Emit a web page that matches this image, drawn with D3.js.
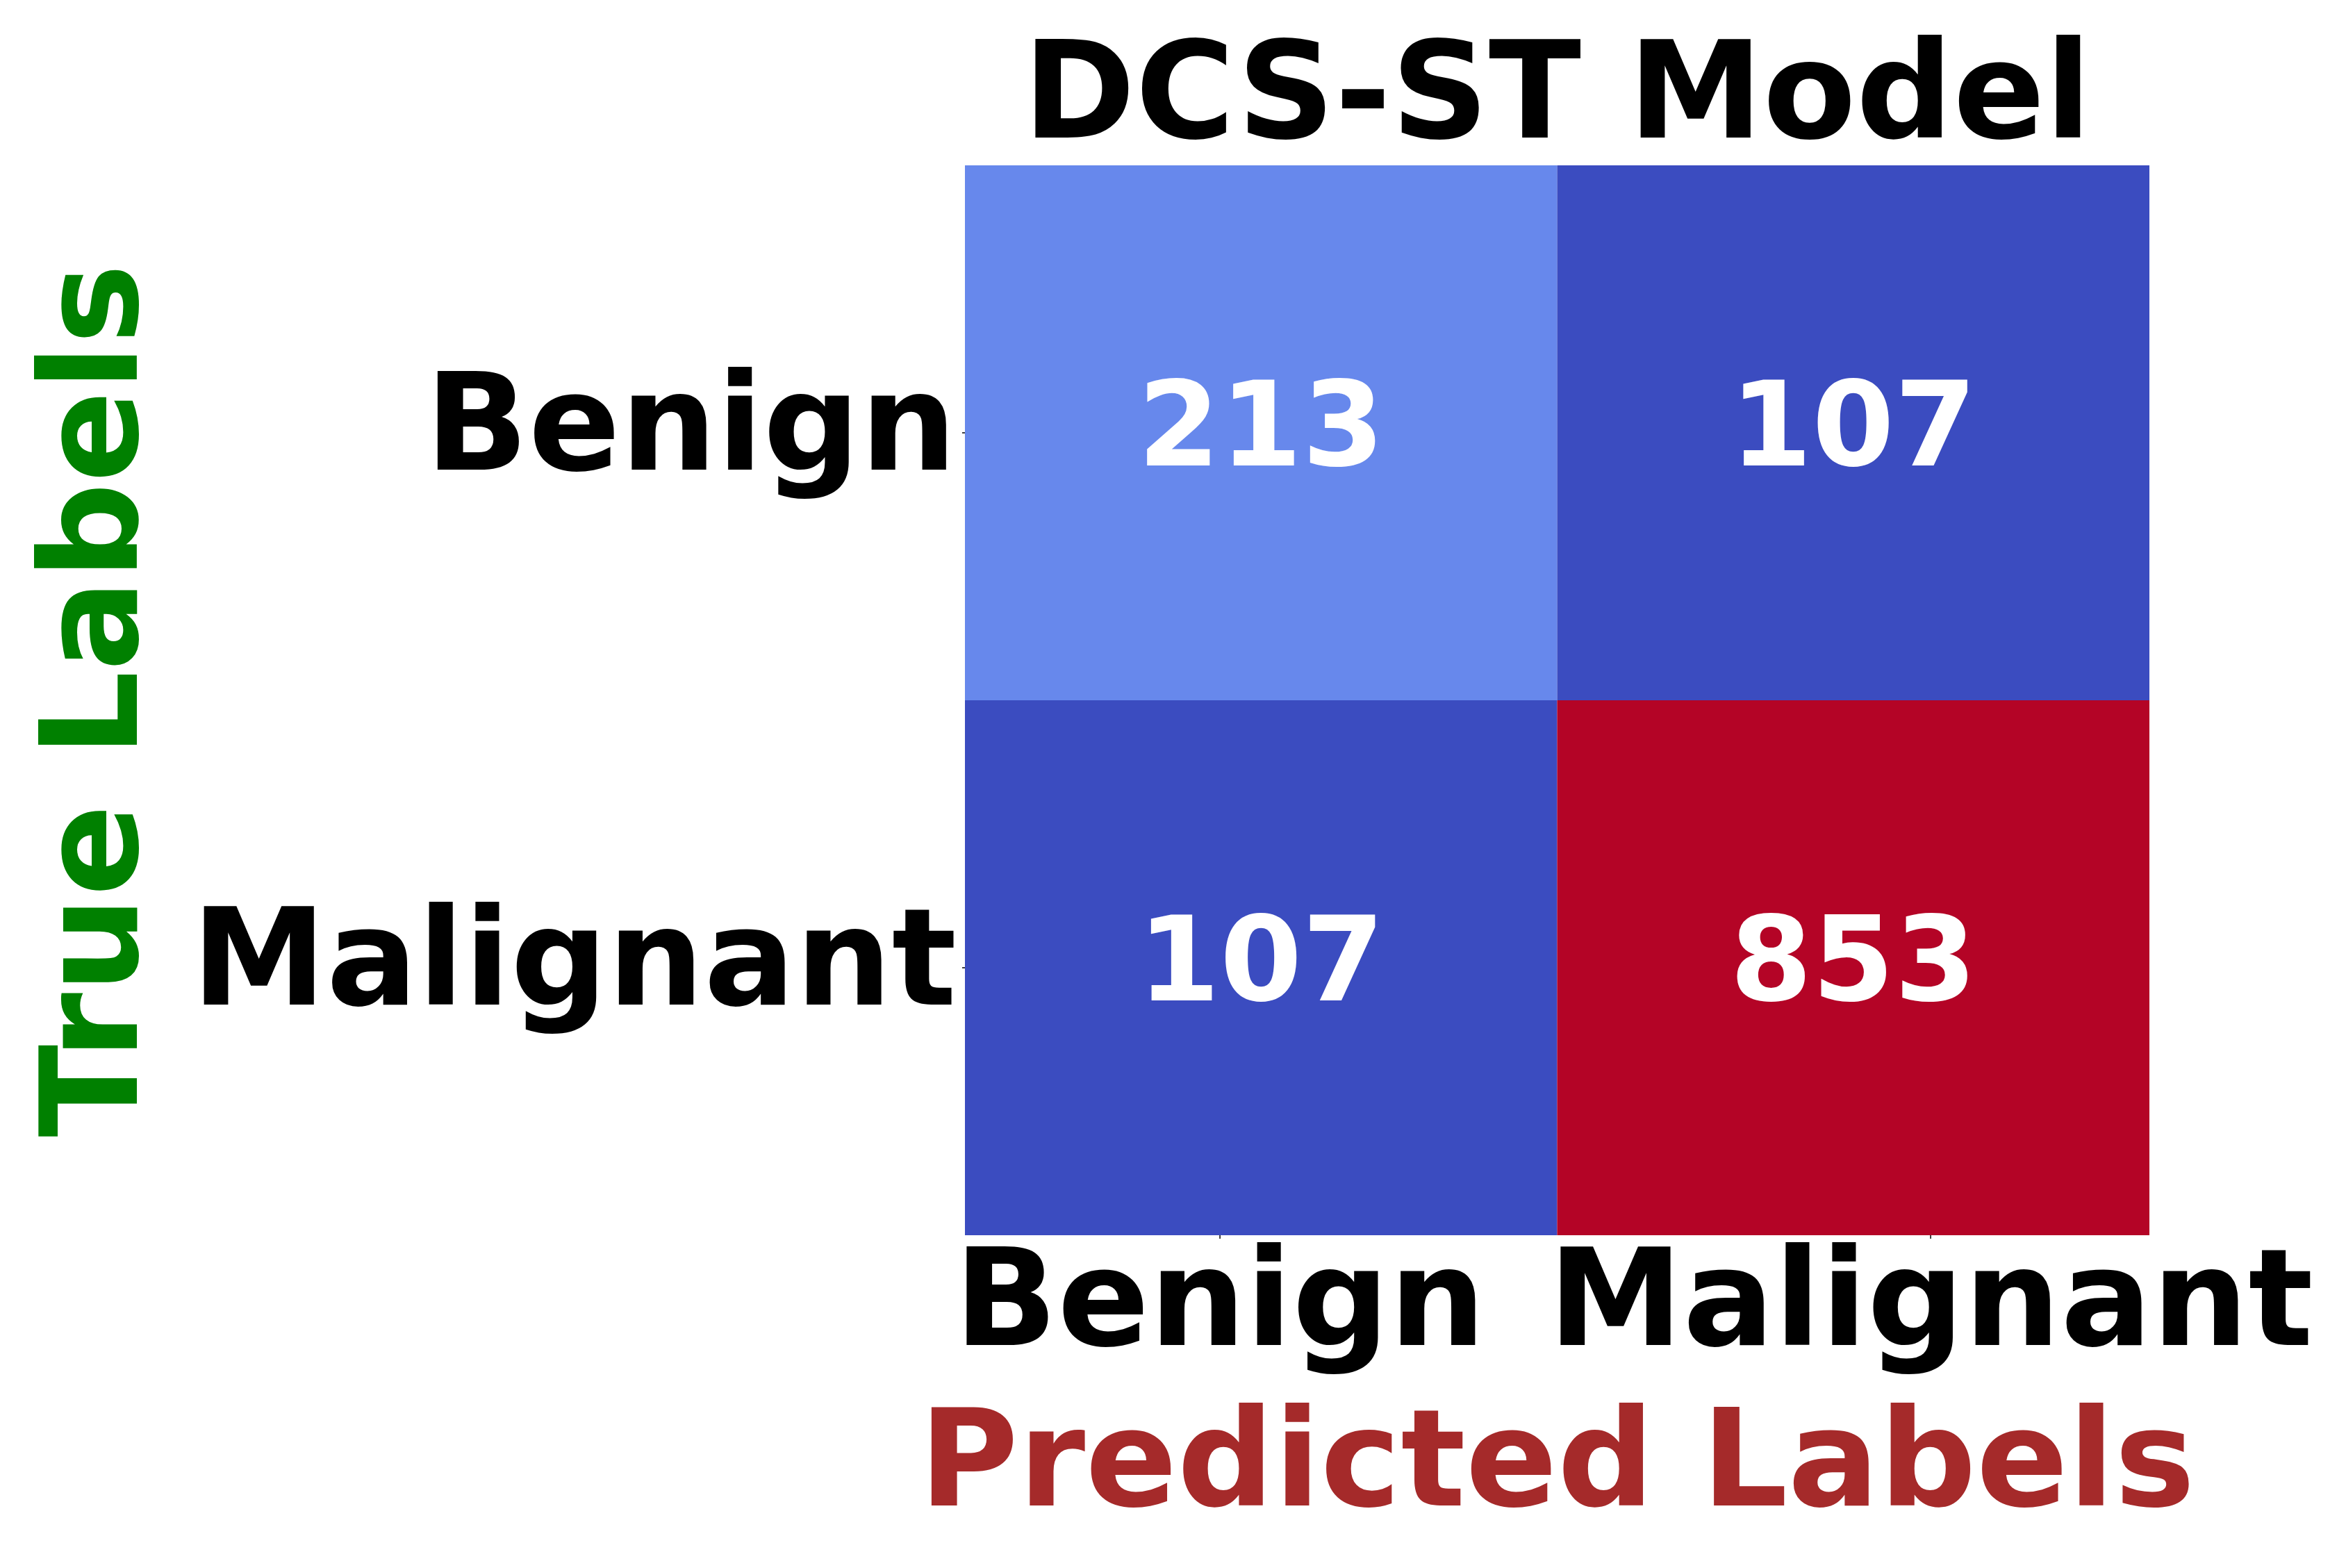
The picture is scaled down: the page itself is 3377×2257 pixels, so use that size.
<!DOCTYPE html>
<html>
<head>
<meta charset="utf-8">
<script src="https://cdn.jsdelivr.net/npm/d3@7"></script>
<style>
  body { margin: 0; background: #fff; }
  text { font-family: "DejaVu Sans", sans-serif; font-weight: bold; }
</style>
</head>
<body>
<div id="chart"></div>
<script>
// confusion matrix, rows = true label, cols = predicted label
var trueLabels = ["Benign", "Malignant"];
var predLabels = ["Benign", "Malignant"];
var rowBenign = [213, 107];
var rowMalignant = [107, 853];
// x tick positions in column units (as they sit in the picture)
var xTickValues = [0.43, 1.63];

var width = 3377, height = 2257;
var plotLeft = 1389, plotRight = 3094, plotTop = 238, plotBottom = 1778;

var matrix = [rowBenign, rowMalignant];
var cells = [];
matrix.forEach(function(row, i) {
    row.forEach(function(v, j) {
        cells.push({row: trueLabels[i], col: predLabels[j], value: v});
    });
});

var svg = d3.select("#chart")
    .append("svg")
    .attr("width", width)
    .attr("height", height);

svg.append("rect")
    .attr("width", width)
    .attr("height", height)
    .attr("fill", "#fff");

var x = d3.scaleBand().domain(predLabels).range([plotLeft, plotRight]);
var y = d3.scaleBand().domain(trueLabels).range([plotTop, plotBottom]);
var xTick = d3.scaleLinear().domain([0, predLabels.length]).range([plotLeft, plotRight]);

// coolwarm-like colour ramp
var vmin = d3.min(cells, function(d) { return d.value; });
var vmax = d3.max(cells, function(d) { return d.value; });
var stops = ["#3b4cc0", "#5977e3", "#7b9ff9", "#9ebeff", "#c0d4f5", "#dddcdc",
             "#f2cbb7", "#f7ac8e", "#ee8468", "#d65244", "#b40426"];
var color = d3.scaleLinear()
    .domain(stops.map(function(s, i) { return vmin + (vmax - vmin) * i / (stops.length - 1); }))
    .range(stops)
    .interpolate(d3.interpolateRgb);

svg.selectAll(".cell")
    .data(cells)
    .enter()
    .append("rect")
    .attr("class", "cell")
    .attr("x", function(d) { return x(d.col); })
    .attr("y", function(d) { return y(d.row); })
    .attr("width", x.bandwidth())
    .attr("height", y.bandwidth())
    .attr("fill", function(d) { return color(d.value); });

svg.selectAll(".val")
    .data(cells)
    .enter()
    .append("text")
    .attr("class", "val")
    .attr("x", function(d) { return x(d.col) + x.bandwidth() / 2; })
    .attr("y", function(d) { return y(d.row) + y.bandwidth() / 2 + 47; })
    .attr("text-anchor", "middle")
    .attr("font-size", 170)
    .attr("fill", "#fff")
    .text(function(d) { return d.value; });

// y axis
var yAxis = svg.append("g")
    .attr("transform", "translate(" + plotLeft + ",0)")
    .call(d3.axisLeft(y).tickSize(4).tickPadding(8));
yAxis.select(".domain").remove();
yAxis.selectAll("line").attr("stroke", "#000").attr("stroke-width", 1.5);
yAxis.selectAll("text")
    .attr("font-size", 195)
    .attr("font-family", "DejaVu Sans")
    .attr("font-weight", "bold")
    .attr("fill", "#000")
    .attr("dy", "0.27em");

// x axis
var xAxis = svg.append("g")
    .attr("transform", "translate(0," + plotBottom + ")")
    .call(d3.axisBottom(xTick)
        .tickValues(xTickValues)
        .tickFormat(function(d, i) { return predLabels[i]; })
        .tickSize(5)
        .tickPadding(15));
xAxis.select(".domain").remove();
xAxis.selectAll("line").attr("stroke", "#000").attr("stroke-width", 1.5);
xAxis.selectAll("text")
    .attr("font-size", 195)
    .attr("font-family", "DejaVu Sans")
    .attr("font-weight", "bold")
    .attr("fill", "#000");

// title and axis titles
svg.append("text")
    .attr("x", (plotLeft + plotRight) / 2)
    .attr("y", 198)
    .attr("text-anchor", "middle")
    .attr("font-size", 195)
    .attr("fill", "#000")
    .text("DCS-ST Model");

svg.append("text")
    .attr("x", (plotLeft + plotRight) / 2)
    .attr("y", 2167)
    .attr("text-anchor", "middle")
    .attr("font-size", 195)
    .attr("fill", "#a52a2a")
    .text("Predicted Labels");

svg.append("text")
    .attr("transform", "translate(197," + ((plotTop + plotBottom) / 2) + ") rotate(-90)")
    .attr("text-anchor", "middle")
    .attr("font-size", 195)
    .attr("fill", "#008000")
    .text("True Labels");
</script>
</body>
</html>
